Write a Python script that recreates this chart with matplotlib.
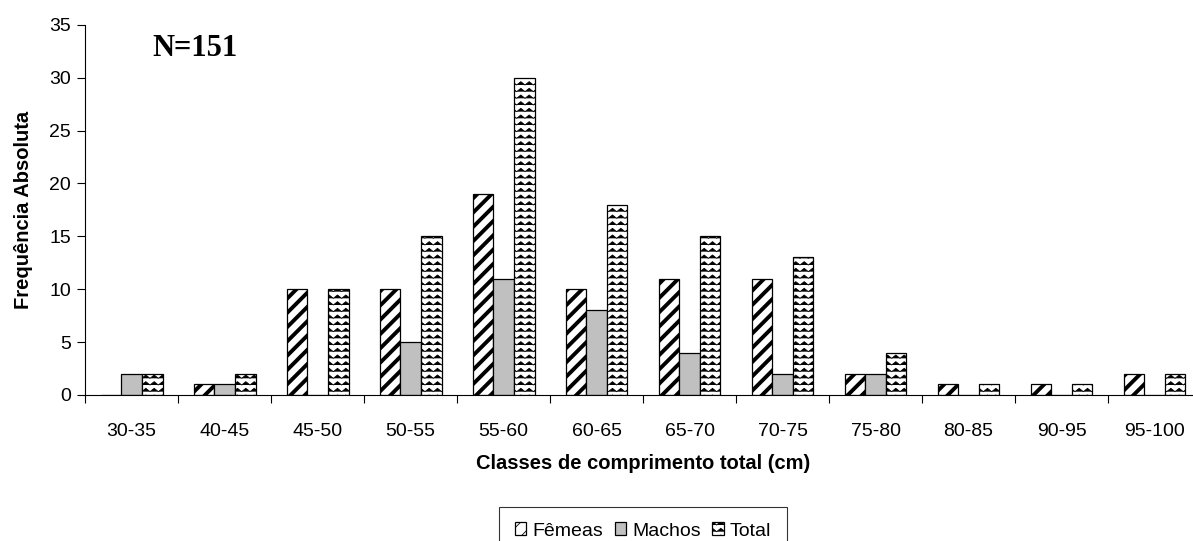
import warnings
import numpy as np
import matplotlib
matplotlib.use('Agg')
import matplotlib.pyplot as plt
from matplotlib import hatch as mhatch
from matplotlib.path import Path

warnings.filterwarnings('ignore')

classes = ['30-35', '40-45', '45-50', '50-55', '55-60', '60-65',
           '65-70', '70-75', '75-80', '80-85', '90-95', '95-100']
femeas = [0, 1, 10, 10, 19, 10, 11, 11, 2, 1, 1, 2]
machos = [2, 1, 0, 5, 11, 8, 4, 2, 2, 0, 0, 0]
total = [2, 2, 10, 15, 30, 18, 15, 13, 4, 1, 1, 2]


# wavy (zigzag) hatch like the excel "wave" fill, symbol '~'
class ZigZagHatch(mhatch.HatchPatternBase):
    def __init__(self, hatch, density):
        self.num_rows = hatch.count('~') * 5
        self.num_pts = 25
        self.num_vertices = self.num_rows * self.num_pts

    def set_vertices_and_codes(self, vertices, codes):
        xs = np.linspace(0, 1, self.num_pts)
        amp = 0.5 / max(self.num_rows, 1)
        bump = np.where(np.arange(self.num_pts) % 2 == 0, 0.0, amp)
        for i in range(self.num_rows):
            y0 = (i + 0.25) / self.num_rows
            sl = slice(i * self.num_pts, (i + 1) * self.num_pts)
            vertices[sl, 0] = xs
            vertices[sl, 1] = y0 + bump
            codes[sl] = Path.LINETO
            codes[i * self.num_pts] = Path.MOVETO


# wide diagonal stripes, symbol '!' (line count must be even to tile)
class WideStripeHatch(mhatch.HatchPatternBase):
    def __init__(self, hatch, density):
        self.num_lines = hatch.count('!') * 14
        self.num_vertices = (self.num_lines + 1) * 2 if self.num_lines else 0

    def set_vertices_and_codes(self, vertices, codes):
        steps = np.linspace(-0.5, 0.5, self.num_lines + 1)
        vertices[0::2, 0] = 0.0 + steps
        vertices[0::2, 1] = 0.0 - steps
        vertices[1::2, 0] = 1.0 + steps
        vertices[1::2, 1] = 1.0 - steps
        codes[0::2] = Path.MOVETO
        codes[1::2] = Path.LINETO


mhatch._hatch_types.append(ZigZagHatch)
mhatch._hatch_types.append(WideStripeHatch)

plt.rcParams['font.family'] = 'Liberation Sans'
plt.rcParams['font.size'] = 14

fig = plt.figure(figsize=(11.93, 5.41), dpi=100)
ax = fig.add_axes([0.0713, 0.270, 0.9354, 0.684])

x = np.arange(len(classes))
w = 0.222

plt.rcParams['hatch.linewidth'] = 2.8
b1 = ax.bar(x - w, femeas, w, facecolor='white', edgecolor='black',
            linewidth=0.9, hatch='!', label='Fêmeas')
plt.rcParams['hatch.linewidth'] = 0.6
b2 = ax.bar(x, machos, w, facecolor='#c0c0c0', edgecolor='black',
            linewidth=0.9, label='Machos')
b3 = ax.bar(x + w, total, w, facecolor='white', edgecolor='black',
            linewidth=0.9, hatch='~~~', label='Total')

for p in b1:
    if hasattr(p, 'set_hatch_linewidth'):
        p.set_hatch_linewidth(2.8)
for p in list(b2) + list(b3):
    if hasattr(p, 'set_hatch_linewidth'):
        p.set_hatch_linewidth(0.6)

ax.set_xlim(-0.5, len(classes) - 0.5)
ax.set_ylim(0, 35)
ax.set_yticks(range(0, 36, 5))
ax.set_xticks(x)
ax.set_xticklabels(classes)
ax.set_xticks(np.arange(len(classes) + 1) - 0.5, minor=True)
ax.tick_params(axis='x', which='major', length=0, pad=20)
ax.tick_params(axis='x', which='minor', length=6, width=0.8, direction='out')
ax.tick_params(axis='y', length=6, width=0.8, direction='out', pad=4)

for s in ['top', 'right']:
    ax.spines[s].set_visible(False)
ax.spines['left'].set_linewidth(0.8)
ax.spines['bottom'].set_linewidth(0.8)

ax.set_xlabel('Classes de comprimento total (cm)', fontweight='bold',
              fontsize=14.5, labelpad=10)
ax.set_ylabel('Frequência Absoluta', fontweight='bold', fontsize=14.5,
              labelpad=12)

ax.text(0.06, 0.935, 'N=151', transform=ax.transAxes, fontsize=22,
        fontweight='bold', family='Liberation Serif', va='center')

leg = fig.legend(loc='upper center', bbox_to_anchor=(0.539, 0.063),
                 ncol=3, frameon=True, fancybox=False, handlelength=0.6,
                 handleheight=0.6, handletextpad=0.3, columnspacing=0.6,
                 borderpad=0.8, borderaxespad=0, edgecolor='black',
                 fontsize=14)
leg.get_frame().set_linewidth(0.8)

fig.savefig('out.png', dpi=100)
